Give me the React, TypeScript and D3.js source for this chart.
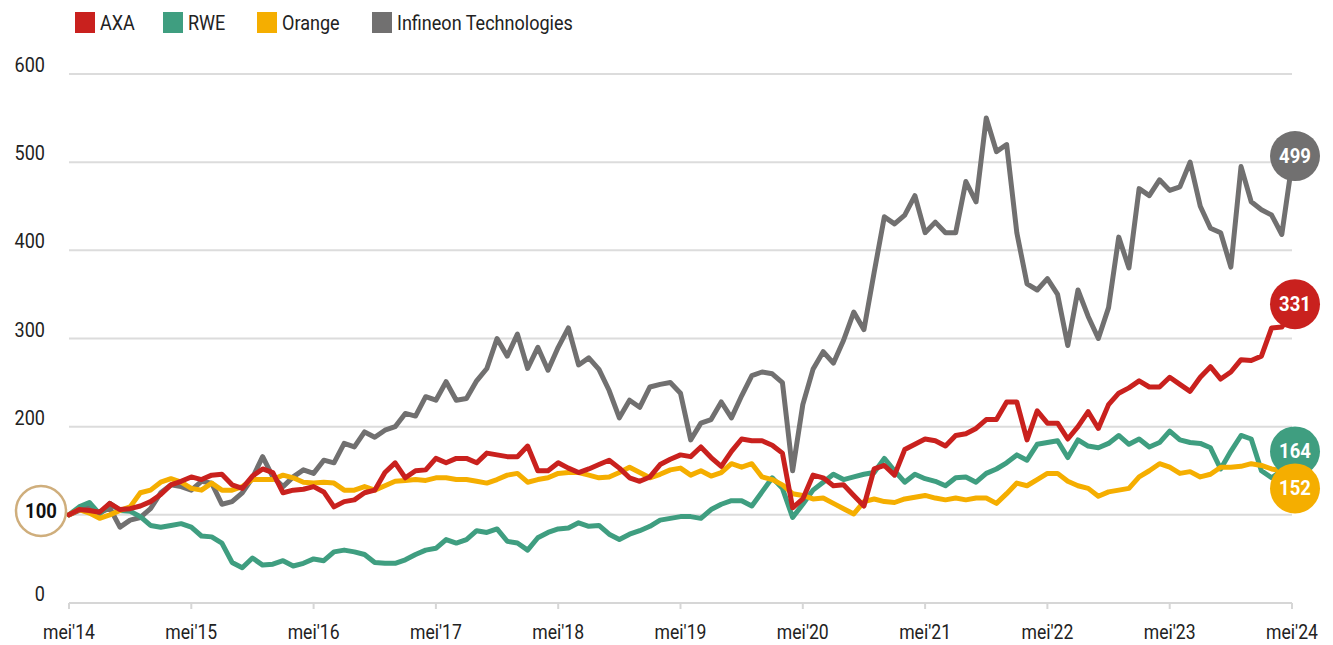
import React from "react";
import * as d3 from "d3";

// Monthly index: 0 = mei'14 ... 120 = mei'24
const xTickLabels = ["mei'14","mei'15","mei'16","mei'17","mei'18","mei'19","mei'20","mei'21","mei'22","mei'23","mei'24"];
const yTicks = [0, 100, 200, 300, 400, 500, 600];

const seriesNames = ["AXA", "RWE", "Orange", "Infineon Technologies"];
const seriesColors = ["#c9211e", "#3f9e80", "#f5ae00", "#717070"];

const axa = [100,106,105,103,113,106,107,110,115,123,134,138,143,140,145,146,134,130,144,152,148,125,128,129,132,126,109,115,117,125,128,148,159,142,150,151,164,159,164,164,159,170,168,166,166,178,150,150,159,153,148,152,157,162,153,142,138,143,157,163,168,166,177,165,155,172,186,184,184,179,170,108,118,145,142,133,134,122,110,152,156,145,174,180,186,184,178,190,192,198,208,208,228,228,185,218,204,204,186,200,217,198,225,238,244,252,245,245,256,248,240,256,268,254,262,276,275,280,312,313,331];

const rwe = [100,109,114,101,113,105,104,98,88,86,88,90,86,76,75,68,46,40,51,43,44,48,42,45,50,48,58,60,58,55,46,45,45,49,55,60,62,72,68,72,82,80,84,70,68,60,74,80,84,85,91,87,88,78,72,78,82,87,94,96,98,98,96,106,112,116,116,110,126,142,130,97,112,128,137,146,140,143,146,148,164,150,137,146,141,138,133,142,143,137,147,152,159,168,162,180,182,184,165,185,178,176,181,190,180,186,177,182,195,185,182,181,176,152,172,190,186,150,142,150,164];

const orange = [100,106,102,96,100,105,109,125,128,137,141,137,130,128,136,128,128,132,140,140,140,145,142,137,136,137,136,128,128,132,128,133,138,139,140,139,142,142,140,140,138,136,140,145,147,137,140,142,147,148,148,145,142,143,148,154,148,142,146,151,153,145,150,144,148,158,154,158,143,140,134,124,122,118,119,113,107,101,115,118,115,114,118,120,122,119,117,119,117,119,119,113,124,136,133,140,147,147,138,133,130,121,126,128,130,143,150,158,154,147,149,143,146,154,154,155,158,156,152,150,152];

const infineon = [100,105,109,102,108,86,94,97,107,125,134,132,128,138,136,112,115,125,142,166,143,132,143,151,147,162,159,181,177,194,188,196,200,215,212,234,230,251,230,232,252,266,300,280,305,266,290,264,290,312,270,278,265,241,210,230,222,245,248,250,238,185,204,208,228,210,235,258,262,260,250,150,225,265,285,272,298,330,310,375,438,430,440,462,420,432,420,420,478,455,550,512,520,420,362,355,368,350,292,355,325,300,335,415,380,470,462,480,468,472,500,450,425,420,381,495,455,446,440,418,499];

const seriesValues = [axa, rwe, orange, infineon];
const drawOrder = [3, 1, 2, 0];

const FONT = "Roboto, 'Noto Sans', sans-serif";
const SQUEEZE = 0.88;

function CText(props: { x: number; y: number; anchor?: string; size?: number; weight?: string; fill?: string; children: React.ReactNode }) {
  const { x, y, anchor = "start", size = 20, weight = "normal", fill = "#222", children } = props;
  return (
    <text
      transform={`translate(${x},${y}) scale(${SQUEEZE},1)`}
      textAnchor={anchor}
      fontSize={size}
      fontWeight={weight}
      fill={fill}
    >
      {children}
    </text>
  );
}

export default function App() {
  const W = 1333, H = 645;
  const x = d3.scaleLinear().domain([0, 120]).range([69, 1292]);
  const y = d3.scaleLinear().domain([0, 600]).range([603, 74]);
  const line = d3.line<number>().x((_, i) => x(i)).y((v) => y(v)).curve(d3.curveLinear);

  // end labels with simple dodge
  const ends = seriesValues.map((vals, i) => ({ i, v: vals[vals.length - 1], cy: y(vals[vals.length - 1]) - 7 }));
  const sorted = [...ends].sort((a, b) => a.cy - b.cy);
  for (let k = 1; k < sorted.length; k++) {
    if (sorted[k].cy - sorted[k - 1].cy < 37) sorted[k].cy = sorted[k - 1].cy + 37;
  }

  const legendX = [75, 163, 257, 372];

  return (
    <svg width={W} height={H} style={{ position: "absolute", left: 0, top: 0, background: "#fff" }} fontFamily={FONT}>
      {/* legend */}
      {seriesNames.map((n, i) => (
        <g key={n}>
          <rect x={legendX[i]} y={12} width={20} height={21} fill={seriesColors[i]} />
          <CText x={legendX[i] + 25} y={30} size={20.5}>{n}</CText>
        </g>
      ))}
      {/* gridlines */}
      {yTicks.filter((t) => t > 0).map((t) => (
        <line key={t} x1={69} x2={1292} y1={y(t)} y2={y(t)} stroke="#dcdcdc" strokeWidth={2} />
      ))}
      {/* y labels */}
      {yTicks.filter((t) => t !== 100).map((t) => (
        <CText key={t} x={45} y={y(t) - 2} anchor="end" size={20.5}>{t}</CText>
      ))}
      {/* x axis */}
      <line x1={69} x2={1292} y1={603} y2={603} stroke="#d6d6d6" strokeWidth={2} />
      {xTickLabels.map((l, i) => (
        <g key={l}>
          <line x1={x(i * 12)} x2={x(i * 12)} y1={603} y2={609} stroke="#d6d6d6" strokeWidth={2} />
          <CText x={x(i * 12)} y={639} anchor="middle" size={20}>{l}</CText>
        </g>
      ))}
      {/* lines */}
      {drawOrder.map((i) => (
        <path key={i} d={line(seriesValues[i]) || ""} fill="none" stroke={seriesColors[i]} strokeWidth={5} strokeLinejoin="round" strokeLinecap="round" />
      ))}
      {/* start label */}
      <circle cx={41} cy={511} r={25} fill="#fff" stroke="#cfae7c" strokeWidth={2.5} />
      <CText x={41} y={518} anchor="middle" size={21} weight="bold" fill="#111">100</CText>
      {/* end labels */}
      {ends.map((e) => (
        <g key={e.i}>
          <circle cx={1295} cy={e.cy} r={25} fill={seriesColors[e.i]} />
          <CText x={1295} y={e.cy + 7} anchor="middle" size={21} weight="bold" fill="#fff">{e.v}</CText>
        </g>
      ))}
    </svg>
  );
}
